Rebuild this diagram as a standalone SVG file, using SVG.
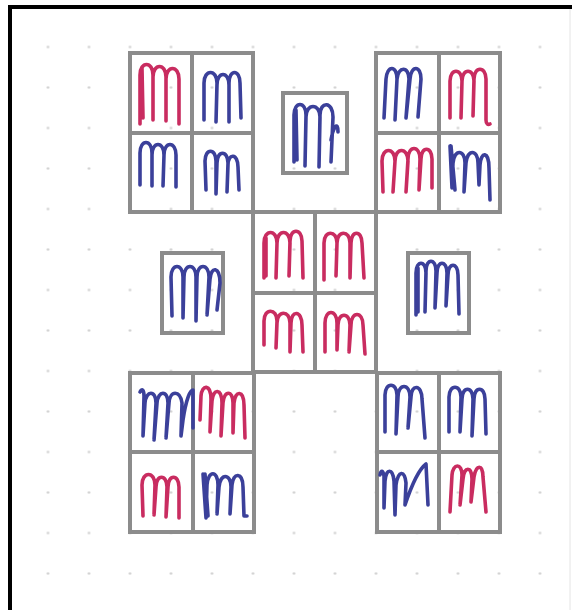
<svg xmlns="http://www.w3.org/2000/svg" width="572" height="610" viewBox="0 0 572 610">
  <defs>
    <pattern id="dots" patternUnits="userSpaceOnUse" x="27.5" y="26.75" width="41" height="40.5">
      <circle cx="20.5" cy="20.25" r="1.3" fill="#cfcfcf"/>
    </pattern>
    <style>
      .box{fill:none;stroke:#8c8c8c;stroke-width:4;stroke-linejoin:miter}
      .red{fill:none;stroke:#c92c60;stroke-width:3.6;stroke-linecap:round;stroke-linejoin:round}
      .blue{fill:none;stroke:#3b409a;stroke-width:3.6;stroke-linecap:round;stroke-linejoin:round}
    </style>
  </defs>
  <rect x="0" y="0" width="572" height="610" fill="#ffffff"/>
  <rect x="10" y="7" width="562" height="603" fill="url(#dots)"/>
  <g id="frame">
    <line x1="8" y1="7" x2="572" y2="7" stroke="#000" stroke-width="4"/>
    <line x1="10" y1="5" x2="10" y2="610" stroke="#000" stroke-width="4"/>
    <line x1="570" y1="9" x2="570" y2="610" stroke="#e4e4e4" stroke-width="1"/>
  </g>
  <g id="connectors"></g>

  <g id="block-top-left">
    <rect class="box" x="130" y="53" width="123" height="159"/>
    <line class="box" x1="192" y1="53" x2="192" y2="212"/>
    <line class="box" x1="130" y1="133" x2="253" y2="133"/>
    <path class="red" d="M140 124 L140 75 C140 61 153 61 153 75 L153 120 L153 77 C153 63 166 63 166 77 L166 121 L166 79 C166 65 179 65 179 79 L179 124 M143 118 L142 68"/>
    <path class="blue" d="M204 120 L204 83 C204 69 217 69 217 83 L216 122 L217 85 C217 71 229 71 229 85 L229 122 L229 83 C229 69 240 69 240 83 L241 118"/>
    <path class="blue" d="M140 185 L140 153 C140 139 152 139 152 153 L152 186 L152 155 C152 141 164 141 164 155 L163 186 L164 155 C164 141 176 141 176 155 L176 187"/>
    <path class="blue" d="M206 190 L205 161 C205 148 216 148 216 161 L216 194 L217 163 C217 150 228 150 228 163 L227 192 L228 165 C228 153 238 153 238 167 L239 190"/>
  </g>

  <g id="square-top-middle">
    <rect class="box" x="283" y="93" width="64" height="80"/>
    <path class="blue" d="M294 162 L294 115 C294 101 306 101 306 115 L305 166 L306 117 C306 103 320 103 320 117 L319 167 L320 115 C320 101 333 101 333 117 L331 162 M331 140 C333 128 338 120 338 132 M297 160 L296 110"/>
  </g>

  <g id="block-top-right">
    <rect class="box" x="376" y="53" width="124" height="159"/>
    <line class="box" x1="439" y1="53" x2="439" y2="212"/>
    <line class="box" x1="376" y1="133" x2="500" y2="133"/>
    <path class="blue" d="M384 118 L386 79 C387 65 397 65 397 79 L395 120 L397 79 C398 66 409 66 409 79 L406 118 L410 79 C411 65 421 65 421 79 L418 117"/>
    <path class="red" d="M450 118 L450 81 C450 68 462 68 462 81 L461 118 L462 81 C462 68 474 68 474 81 L473 116 L474 79 C474 66 486 66 486 79 L486 120 C486 124 488 125 490 124"/>
    <path class="red" d="M383 192 L382 161 C382 147 395 147 395 161 L393 192 L395 161 C395 147 408 147 408 161 L406 192 L408 159 C408 145 420 145 420 159 L419 190 L421 159 C421 146 432 146 432 159 L432 188"/>
    <path class="blue" d="M450 146 L452 188 L453 163 C454 149 465 149 465 163 L464 192 L466 163 C467 149 478 149 478 163 L479 185 L480 165 C481 151 489 151 489 168 L490 200 M451 146 L455 190"/>
  </g>

  <g id="block-center">
    <rect class="box" x="253" y="212" width="123" height="160"/>
    <line class="box" x1="315" y1="212" x2="315" y2="372"/>
    <line class="box" x1="253" y1="293" x2="376" y2="293"/>
    <path class="red" d="M264 278 L264 243 C264 229 277 229 277 243 L276 278 L277 243 C277 229 290 229 290 243 L289 276 L290 241 C290 228 302 228 302 241 L303 278 M266 276 L266 238"/>
    <path class="red" d="M324 280 L324 243 C324 230 337 230 337 243 L336 276 L337 243 C337 230 350 230 350 243 L350 278 L351 243 C351 230 362 230 362 243 L364 278"/>
    <path class="red" d="M264 345 L264 321 C264 308 277 308 277 321 L276 348 L277 323 C277 310 290 310 290 323 L290 352 L291 323 C291 310 302 310 302 325 L303 352"/>
    <path class="red" d="M325 352 L325 323 C325 309 337 309 337 323 L337 350 L338 325 C338 312 350 312 350 325 L349 352 L351 325 C351 311 363 311 363 325 L365 354"/>
  </g>

  <g id="square-left">
    <rect class="box" x="162" y="253" width="61" height="80"/>
    <path class="blue" d="M172 316 L171 277 C171 263 183 263 183 277 L183 318 L184 277 C184 263 196 263 196 277 L196 321 L197 277 C197 263 209 263 209 277 L207 315 L210 279 C211 266 220 266 220 283 L217 310"/>
  </g>

  <g id="square-right">
    <rect class="box" x="408" y="253" width="61" height="80"/>
    <path class="blue" d="M416 315 L416 273 C416 260 426 260 426 273 L425 312 L426 271 C426 258 436 258 436 271 L435 308 L437 273 C437 260 447 260 447 273 L446 306 L448 275 C448 262 458 262 458 275 L459 314 M418 312 L418 268"/>
  </g>

  <g id="block-bottom-left">
    <rect class="box" x="130" y="373" width="124" height="159"/>
    <line class="box" x1="193" y1="373" x2="193" y2="532"/>
    <line class="box" x1="130" y1="452" x2="254" y2="452"/>
    <path class="blue" d="M140 392 C142 388 144 390 144 396 L143 436 L145 403 C146 390 156 390 156 403 L154 440 L157 403 C158 390 168 390 168 403 L166 438 L169 403 C170 390 180 390 182 403 L181 436 L183 420 C186 400 190 390 193 390 L193 428"/>
    <path class="red" d="M200 420 L201 396 C202 384 211 384 211 399 L210 432 L212 401 C213 388 222 388 222 403 L221 436 L223 403 C224 390 233 390 233 403 L233 433 L234 403 C235 390 244 390 244 405 L245 438"/>
    <path class="red" d="M143 516 L142 485 C142 471 155 471 155 485 L154 515 L156 487 C156 474 167 474 167 487 L166 517 L168 487 C168 474 179 474 179 487 L179 518"/>
    <path class="blue" d="M203 474 L206 518 L207 485 C208 470 218 470 218 485 L217 514 L219 487 C220 473 231 473 231 487 L230 514 L232 485 C233 472 243 472 243 487 L244 516 L247 516 M205 474 L208 516"/>
  </g>

  <g id="block-bottom-right">
    <rect class="box" x="377" y="373" width="123" height="159"/>
    <line class="box" x1="439" y1="373" x2="439" y2="532"/>
    <line class="box" x1="377" y1="452" x2="500" y2="452"/>
    <path class="blue" d="M385 432 L385 395 C385 382 397 382 397 395 L396 434 L398 397 C398 383 410 383 410 397 L408 428 L411 397 C411 384 422 384 422 399 L425 438"/>
    <path class="blue" d="M449 432 L449 397 C449 384 461 384 461 397 L460 432 L462 399 C462 386 473 386 473 399 L472 436 L474 399 C474 386 485 386 485 399 L486 434"/>
    <path class="blue" d="M380 475 C381 470 383 470 384 476 L384 508 L385 481 C386 468 393 468 394 481 L395 515 L396 485 C398 470 405 470 406 483 L405 505 C410 490 418 470 426 464 L428 505"/>
    <path class="red" d="M450 512 L452 475 C453 463 462 463 462 475 L460 505 L463 479 C464 466 472 466 472 479 L471 502 L474 477 C476 464 483 464 483 477 L486 512"/>
  </g>
</svg>
